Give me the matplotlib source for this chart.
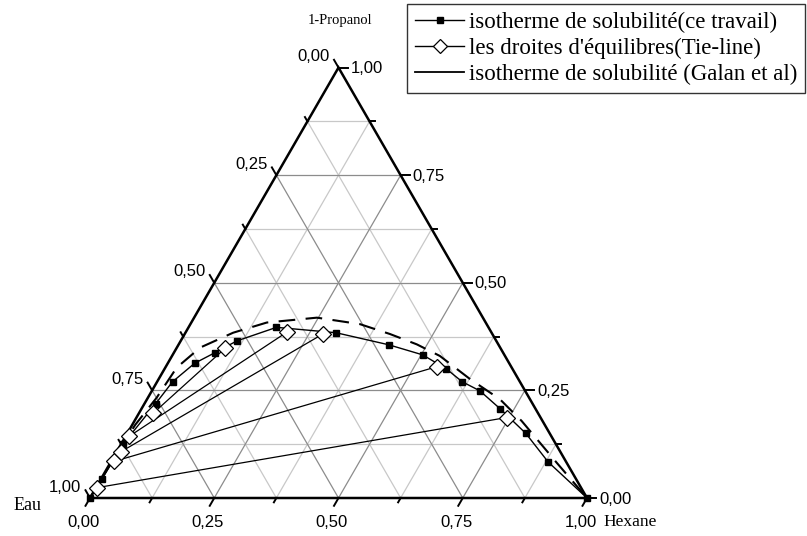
import numpy as np
import matplotlib
matplotlib.use("Agg")
import matplotlib.pyplot as plt
from matplotlib.lines import Line2D

# ---- data: (hexane fraction, 1-propanol fraction); eau = 1 - hexane - propanol
exp_hexane = [0.0, 0.002, 0.004, 0.0225, 0.031, 0.054, 0.083, 0.113, 0.177, 0.303,
              0.423, 0.503, 0.567, 0.614, 0.660, 0.722, 0.802, 0.880, 1.0]
exp_propanol = [0.0, 0.044, 0.125, 0.219, 0.270, 0.313, 0.338, 0.365, 0.3965, 0.384,
                0.356, 0.3326, 0.300, 0.270, 0.249, 0.207, 0.150, 0.0837, 0.0]

tie_left_hexane = [0.002, 0.006, 0.008, 0.007, 0.0285]
tie_left_propanol = [0.024, 0.085, 0.107, 0.143, 0.1965]
tie_right_hexane = [0.745, 0.545, 0.278, 0.204, 0.098]
tie_right_propanol = [0.187, 0.305, 0.381, 0.386, 0.348]

galan_hexane = [0.0, 0.002, 0.006, 0.0176, 0.023, 0.047, 0.096, 0.152, 0.247, 0.341,
                0.413, 0.479, 0.539, 0.627, 0.710, 0.779, 0.898, 1.0]
galan_propanol = [0.0, 0.09, 0.17, 0.233, 0.303, 0.3495, 0.384, 0.4077, 0.419, 0.404,
                  0.381, 0.357, 0.330, 0.276, 0.2295, 0.179, 0.082, 0.0]

tick_values = [0.0, 0.25, 0.5, 0.75, 1.0]
tick_labels = ["0,00", "0,25", "0,50", "0,75", "1,00"]
minor_values = [0.125, 0.375, 0.625, 0.875]

legend_labels = ["isotherme de solubilité(ce travail)",
                 "les droites d'équilibres(Tie-line)",
                 "isotherme de solubilité (Galan et al)"]
name_top, name_left, name_right = "1-Propanol", "Eau", "Hexane"

S = np.sqrt(3) / 2


def tern(h, p):
    h = np.asarray(h, float)
    p = np.asarray(p, float)
    return h + p / 2, p * S


W, H = 807, 536
fig = plt.figure(figsize=(W / 100, H / 100), dpi=100)
ax = fig.add_axes([0, 0, 1, 1])
# pixel geometry: left vertex at x=90, bottom at y=498, side = 497 px
PX = 497.0
x0, ybot = 90.0, 498.0
ax.set_xlim(-x0 / PX, (W - x0) / PX)
ax.set_ylim(-(H - ybot) / PX, ybot / PX)
ax.axis("off")

sans = "Liberation Sans"
serif = "Liberation Serif"

# ---- grid
for v in minor_values + [0.25, 0.5, 0.75]:
    col = "#8c8c8c" if v in (0.25, 0.5, 0.75) else "#c8c8c8"
    xs, ys = tern([v, v], [0, 1 - v])          # hexane = v
    ax.plot(xs, ys, color=col, lw=0.9, zorder=1)
    xs, ys = tern([0, 1 - v], [v, v])          # propanol = v
    ax.plot(xs, ys, color=col, lw=0.9, zorder=1)
    xs, ys = tern([0, 1 - v], [1 - v, 0])      # eau = v
    ax.plot(xs, ys, color=col, lw=0.9, zorder=1)

# ---- triangle frame
xs, ys = tern([0, 1, 0, 0], [0, 0, 1, 0])
ax.plot(xs, ys, color="black", lw=1.8, zorder=5, solid_joinstyle="miter")


def tick(v, major):
    L = (9.0 if major else 5.0) / PX
    bx, by = tern(v, 0)
    ax.plot([bx, bx - 0.5 * L], [by, by - S * L], color="black", lw=1.4, zorder=5)
    rx, ry = tern(1 - v, v)
    ax.plot([rx, rx + L], [ry, ry], color="black", lw=1.4, zorder=5)
    lx, ly = tern(0, 1 - v)
    ax.plot([lx, lx - 0.5 * L], [ly, ly + S * L], color="black", lw=1.4, zorder=5)


for v in tick_values:
    tick(v, True)
for v in minor_values:
    tick(v, False)

fs_tick = 12
for v, lab in zip(tick_values, tick_labels):
    L = 9.0 / PX
    bx, by = tern(v, 0)
    ax.text(bx - 0.5 * L - 2 / PX, by - S * L - 9 / PX, lab, ha="center", va="top",
            fontsize=fs_tick, family=sans)
    rx, ry = tern(1 - v, v)
    ax.text(rx + L + 3 / PX, ry - 1 / PX, lab, ha="left", va="center",
            fontsize=fs_tick, family=sans)
    lx, ly = tern(0, 1 - v)
    ax.text(lx - 0.5 * L - 4 / PX, ly + S * L + 3 / PX, lab, ha="right", va="center",
            fontsize=fs_tick, family=sans)

# ---- vertex names
tx, ty = tern(0, 1)
ax.text(tx + 2 / PX, ty + 47 / PX, name_top, ha="center", va="center", fontsize=10.5, family=serif)
ax.text((28 - x0) / PX, (ybot - 505) / PX, name_left, ha="center", va="center", fontsize=13, family=serif)
ax.text((603 - x0) / PX, (ybot - 522) / PX, name_right, ha="left", va="center", fontsize=12.5, family=serif)

# ---- Galan et al (dashed)
gx, gy = tern(galan_hexane, galan_propanol)
ax.plot(gx, gy, color="black", lw=1.5, ls=(0, (8, 5)), zorder=3)

# ---- tie lines
for hl, pl, hr, pr in zip(tie_left_hexane, tie_left_propanol, tie_right_hexane, tie_right_propanol):
    xs, ys = tern([hl, hr], [pl, pr])
    ax.plot(xs, ys, color="black", lw=0.9, zorder=3)
tx_l, ty_l = tern(tie_left_hexane, tie_left_propanol)
tx_r, ty_r = tern(tie_right_hexane, tie_right_propanol)
ax.plot(np.r_[tx_l, tx_r], np.r_[ty_l, ty_r], ls="none", marker="D", ms=8.5,
        mfc="white", mec="black", mew=0.9, zorder=6)

# ---- experimental binodal
ex, ey = tern(exp_hexane, exp_propanol)
ax.plot(ex, ey, color="black", lw=1.0, marker="s", ms=4.2, mfc="black", mec="black", zorder=4)

# ---- legend
handles = [
    Line2D([], [], color="black", lw=1.0, marker="s", ms=4.2, mfc="black"),
    Line2D([], [], color="black", lw=1.0, marker="D", ms=7.5, mfc="white", mec="black", mew=0.9),
    Line2D([], [], color="black", lw=1.3),
]
leg = fig.legend(handles, legend_labels, loc="upper right",
                 bbox_to_anchor=(805 / W, 1 - 4 / H), borderaxespad=0,
                 prop={"family": serif, "size": 16.5}, frameon=True, fancybox=False,
                 edgecolor="black", handlelength=2.1, handletextpad=0.22,
                 labelspacing=0.2, borderpad=0.35, markerscale=1.0)
leg.get_frame().set_linewidth(1.0)

fig.savefig("out.png", dpi=100)
